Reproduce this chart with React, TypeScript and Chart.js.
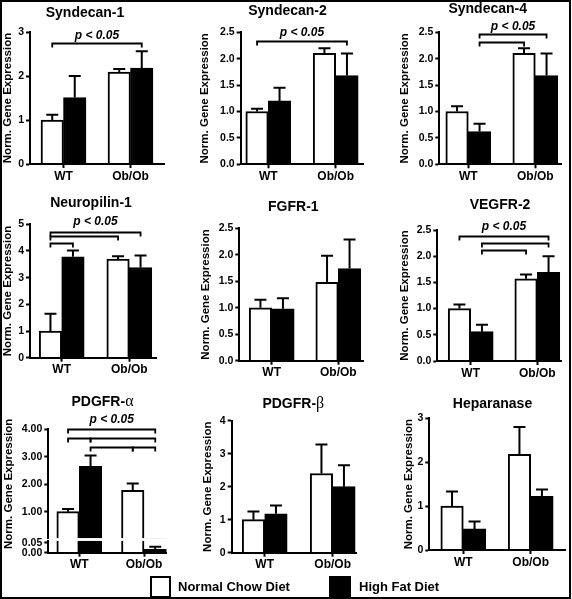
import React, { useEffect, useRef } from "react";
import { Chart, registerables } from "chart.js";

Chart.register(...registerables);

const PAGE_W = 572;
const PAGE_H = 599;
const SANS = "'Liberation Sans', Arial, Helvetica, sans-serif";
const SERIF = "'Liberation Serif', 'DejaVu Serif', serif";

// ---------------- data ----------------
const groups = ["WT", "Ob/Ob"];
const seriesNames = ["Normal Chow Diet", "High Fat Diet"];
const yAxisTitle = "Norm. Gene Expression";
const significanceLabel = "p < 0.05";

const panelTitles = ["Syndecan-1", "Syndecan-2", "Syndecan-4", "Neuropilin-1", "FGFR-1", "VEGFR-2", "PDGFR-", "PDGFR-", "Heparanase"];
const panelTitleGreek = ["", "", "", "", "", "", "α", "β", ""];

const syndecan1Chow = [1.0, 2.09];
const syndecan1ChowErr = [0.12, 0.07];
const syndecan1Fat = [1.51, 2.18];
const syndecan1FatErr = [0.49, 0.38];

const syndecan2Chow = [1.0, 2.1];
const syndecan2ChowErr = [0.05, 0.1];
const syndecan2Fat = [1.2, 1.68];
const syndecan2FatErr = [0.25, 0.42];

const syndecan4Chow = [1.0, 2.1];
const syndecan4ChowErr = [0.1, 0.1];
const syndecan4Fat = [0.62, 1.68];
const syndecan4FatErr = [0.15, 0.42];

const neuropilin1Chow = [1.0, 3.7];
const neuropilin1ChowErr = [0.65, 0.1];
const neuropilin1Fat = [3.78, 3.38];
const neuropilin1FatErr = [0.24, 0.45];

const fgfr1Chow = [1.0, 1.48];
const fgfr1ChowErr = [0.15, 0.5];
const fgfr1Fat = [0.98, 1.74];
const fgfr1FatErr = [0.2, 0.55];

const vegfr2Chow = [1.0, 1.57];
const vegfr2ChowErr = [0.08, 0.08];
const vegfr2Fat = [0.56, 1.69];
const vegfr2FatErr = [0.13, 0.31];

const pdgfraChow = [1.0, 1.78];
const pdgfraChowErr = [0.1, 0.25];
const pdgfraFat = [2.65, 0.017];
const pdgfraFatErr = [0.4, 0.013];

const pdgfrbChow = [1.0, 2.4];
const pdgfrbChowErr = [0.25, 0.88];
const pdgfrbFat = [1.18, 2.0];
const pdgfrbFatErr = [0.25, 0.65];

const heparanaseChow = [1.0, 2.18];
const heparanaseChowErr = [0.33, 0.62];
const heparanaseFat = [0.48, 1.22];
const heparanaseFatErr = [0.17, 0.16];

const ticksTo3 = ["0", "1", "2", "3"];
const ticksTo4 = ["0", "1", "2", "3", "4"];
const ticksTo5 = ["0", "1", "2", "3", "4", "5"];
const ticksHalfTo25 = ["0.0", "0.5", "1.0", "1.5", "2.0", "2.5"];
const pdgfraUpperTicks = ["1.00", "2.00", "3.00", "4.00"];
const pdgfraLowerTicks = ["0.00", "0.05"];

// bar index: 0 = WT chow, 1 = WT fat, 2 = Ob/Ob chow, 3 = Ob/Ob fat
const syndecan1Brackets = [[0, 3]];
const syndecan2Brackets = [[0, 3]];
const syndecan4Brackets = [[1, 3], [1, 2]];
const neuropilin1Brackets = [[0, 3], [0, 2], [0, 1]];
const vegfr2Brackets = [[0, 3], [1, 3], [1, 2]];
const pdgfraBrackets = [[0, 3], [0, 1], [1, 3], [1, 2], [2, 3]];
const noBrackets: number[][] = [];

const panels = [
  { chow: syndecan1Chow, chowErr: syndecan1ChowErr, fat: syndecan1Fat, fatErr: syndecan1FatErr, ticks: ticksTo3, brackets: syndecan1Brackets },
  { chow: syndecan2Chow, chowErr: syndecan2ChowErr, fat: syndecan2Fat, fatErr: syndecan2FatErr, ticks: ticksHalfTo25, brackets: syndecan2Brackets },
  { chow: syndecan4Chow, chowErr: syndecan4ChowErr, fat: syndecan4Fat, fatErr: syndecan4FatErr, ticks: ticksHalfTo25, brackets: syndecan4Brackets },
  { chow: neuropilin1Chow, chowErr: neuropilin1ChowErr, fat: neuropilin1Fat, fatErr: neuropilin1FatErr, ticks: ticksTo5, brackets: neuropilin1Brackets },
  { chow: fgfr1Chow, chowErr: fgfr1ChowErr, fat: fgfr1Fat, fatErr: fgfr1FatErr, ticks: ticksHalfTo25, brackets: noBrackets },
  { chow: vegfr2Chow, chowErr: vegfr2ChowErr, fat: vegfr2Fat, fatErr: vegfr2FatErr, ticks: ticksHalfTo25, brackets: vegfr2Brackets },
  { chow: pdgfraChow, chowErr: pdgfraChowErr, fat: pdgfraFat, fatErr: pdgfraFatErr, ticks: pdgfraUpperTicks, lowTicks: pdgfraLowerTicks, brackets: pdgfraBrackets },
  { chow: pdgfrbChow, chowErr: pdgfrbChowErr, fat: pdgfrbFat, fatErr: pdgfrbFatErr, ticks: ticksTo4, brackets: noBrackets },
  { chow: heparanaseChow, chowErr: heparanaseChowErr, fat: heparanaseFat, fatErr: heparanaseFatErr, ticks: ticksTo3, brackets: noBrackets },
];

// ---------------- layout (pixels on the page) ----------------
type Frame = {
  L: number; R: number; c1: number; c2: number; top: number; bottom: number;
  yOff: number; tx: number; ty: number; brY: number[]; pY: number | null;
  upperMin?: number; lowerMax?: number; weights?: number[];
};
const frames: Frame[] = [
  { L: 30, R: 164, c1: 63.5, c2: 130.5, top: 32, bottom: 164, yOff: 22, tx: 85, ty: 13, brY: [2.757], pY: 2.92 },
  { L: 240.7, R: 363, c1: 268.3, c2: 335.7, top: 32.3, bottom: 164.3, yOff: 36, tx: 287.5, ty: 11, brY: [2.34], pY: 2.49 },
  { L: 439.3, R: 561.7, c1: 468.3, c2: 535.3, top: 32.3, bottom: 164.3, yOff: 34, tx: 487.7, ty: 9, brY: [2.46, 2.32], pY: 2.61 },
  { L: 30, R: 156.7, c1: 61.7, c2: 129.3, top: 224.3, bottom: 357.7, yOff: 22, tx: 91, ty: 203, brY: [4.72, 4.57, 4.29], pY: 5.1 },
  { L: 239.3, R: 363.3, c1: 271.7, c2: 338.3, top: 228.3, bottom: 360.7, yOff: 33.5, tx: 293.3, ty: 207, brY: [], pY: null },
  { L: 437.3, R: 561.7, c1: 470.7, c2: 537.3, top: 230, bottom: 361, yOff: 32.3, tx: 500, ty: 205, brY: [2.39, 2.26, 2.12], pY: 2.56 },
  { L: 48.3, R: 166.7, c1: 79.3, c2: 144, top: 429.3, bottom: 552.7, yOff: 39.6, tx: 102.5, ty: 401.7, brY: [4.0, 3.67, 3.67, 3.34, 3.34], pY: 4.34, upperMin: 0.03, lowerMax: 0.06, weights: [109, 2.4, 12] },
  { L: 231.7, R: 356.7, c1: 264.7, c2: 332.7, top: 420.7, bottom: 552.7, yOff: 23.7, tx: 293.3, ty: 404, brY: [], pY: null },
  { L: 429.3, R: 565, c1: 463.3, c2: 530.7, top: 418.3, bottom: 550, yOff: 20.6, tx: 492.5, ty: 404, brY: [], pY: null },
];

const BAR_W = 22.5;
const X_H = 20;
const TITLE_SIZE = 11.5;
const TITLE_LH = TITLE_SIZE * 1.2;
const PANEL_TITLE_SIZE = 14;

const tickFont = { family: SANS, size: 10.5, weight: "bold" as const };

function yScale(labels: string[], extra: any) {
  return {
    type: "linear",
    position: "left",
    stacked: false,
    min: parseFloat(labels[0]),
    max: parseFloat(labels[labels.length - 1]),
    afterBuildTicks: (s: any) => {
      s.ticks = labels.map((l) => ({ value: parseFloat(l) }));
    },
    ticks: { autoSkip: false, callback: (_v: any, i: number) => labels[i], font: tickFont, color: "#000", padding: 2 },
    grid: { display: true, drawOnChartArea: false, drawTicks: true, tickLength: 4, tickWidth: 2, tickColor: "#000" },
    border: { display: true, color: "#000", width: 2, z: 1 },
    ...extra,
  };
}

function buildConfig(idx: number) {
  const p: any = panels[idx];
  const f = frames[idx];
  const broken = !!p.lowTicks;
  const u = f.c2 - f.c1;
  const yW = f.yOff + TITLE_LH / 2;
  const titleOpt = {
    display: true,
    text: yAxisTitle,
    color: "#000",
    font: { family: SANS, size: TITLE_SIZE, weight: "bold" },
    padding: 0,
  };
  const fitY = (s: any) => {
    s.width = yW;
  };

  const mk = (vals: number[], color: string, yAxisID: string, stack: string, label: string) => ({
    label,
    data: vals.map((v, i) => ({ x: i, y: v })),
    backgroundColor: color,
    borderColor: "#000",
    borderWidth: 2,
    borderSkipped: "start",
    barThickness: BAR_W,
    yAxisID,
    stack,
  });

  const datasets: any[] = [mk(p.chow, "#ffffff", "y", "a", seriesNames[0]), mk(p.fat, "#000000", "y", "b", seriesNames[1])];
  if (broken) {
    datasets.push(mk(p.chow, "#ffffff", "ylow", "a", seriesNames[0]));
    datasets.push(mk(p.fat, "#000000", "ylow", "b", seriesNames[1]));
  }

  const scales: any = {
    x: {
      type: "linear",
      position: "bottom",
      offset: false,
      min: -(f.c1 - f.L) / u,
      max: 1 + (f.R - f.c2) / u,
      afterBuildTicks: (s: any) => {
        s.ticks = groups.map((_g, i) => ({ value: i }));
      },
      ticks: {
        autoSkip: false,
        maxRotation: 0,
        callback: (_v: any, i: number) => groups[i],
        font: { family: SANS, size: 12, weight: "bold" },
        color: "#000",
        padding: 1,
      },
      grid: { display: true, offset: false, drawOnChartArea: false, drawTicks: true, tickLength: 4, tickWidth: 2, tickColor: "#000" },
      border: { display: true, color: "#000", width: 2, z: 1 },
      afterFit: (s: any) => {
        s.height = X_H;
      },
    },
  };

  if (!broken) {
    scales.y = yScale(p.ticks, { title: titleOpt, afterFit: fitY });
  } else {
    const w = f.weights as number[];
    scales.y = yScale(p.ticks, {
      min: f.upperMin,
      beginAtZero: false,
      stack: "ys",
      stackWeight: w[0],
      weight: 3,
      title: titleOpt,
      afterFit: fitY,
    });
    scales.ygap = {
      type: "linear",
      position: "left",
      display: false,
      stack: "ys",
      stackWeight: w[1],
      weight: 2,
      min: 0,
      max: 1,
    };
    scales.ylow = yScale(p.lowTicks, {
      max: f.lowerMax,
      stack: "ys",
      stackWeight: w[2],
      weight: 1,
      afterFit: fitY,
    });
  }

  const barCenter = (chart: any, k: number) => {
    const ds = k % 2;
    const g = Math.floor(k / 2);
    return chart.getDatasetMeta(ds).data[g].x;
  };

  const annot = {
    id: "annot" + idx,
    beforeDatasetDraw(chart: any, args: any) {
      if (!broken) return;
      const ys = chart.scales[args.meta.yAxisID];
      const ca = chart.chartArea;
      const ctx = chart.ctx;
      ctx.save();
      ctx.beginPath();
      ctx.rect(ca.left - 2, ys.top, ca.right - ca.left + 4, ys.bottom - ys.top);
      ctx.clip();
    },
    afterDatasetDraw(chart: any) {
      if (broken) chart.ctx.restore();
    },
    afterDatasetsDraw(chart: any) {
      const ctx = chart.ctx;
      ctx.save();
      ctx.strokeStyle = "#000";
      ctx.fillStyle = "#000";
      ctx.lineCap = "butt";

      // error bars (upward only)
      const series = [
        [p.chow, p.chowErr],
        [p.fat, p.fatErr],
      ];
      series.forEach(([vals, errs]: any, d: number) => {
        vals.forEach((v: number, g: number) => {
          const topV = v + errs[g];
          let ys = chart.scales.y;
          if (broken && topV <= (f.lowerMax as number)) ys = chart.scales.ylow;
          const x = chart.getDatasetMeta(d).data[g].x;
          const y0 = ys.getPixelForValue(v);
          const y1 = ys.getPixelForValue(topV);
          ctx.lineWidth = 2;
          ctx.beginPath();
          ctx.moveTo(x, y0);
          ctx.lineTo(x, y1);
          ctx.moveTo(x - 6, y1);
          ctx.lineTo(x + 6, y1);
          ctx.stroke();
        });
      });

      // significance brackets
      const ysMain = chart.scales.y;
      ctx.lineWidth = 1.8;
      p.brackets.forEach((b: number[], j: number) => {
        const xa = barCenter(chart, b[0]);
        const xb = barCenter(chart, b[1]);
        const y = Math.round(ysMain.getPixelForValue(f.brY[j])) + 0.5;
        ctx.beginPath();
        ctx.moveTo(xa, y + 4);
        ctx.lineTo(xa, y);
        ctx.lineTo(xb, y);
        ctx.lineTo(xb, y + 4);
        ctx.stroke();
      });
      if (p.brackets.length && f.pY !== null) {
        const b = p.brackets[0];
        const xm = (barCenter(chart, b[0]) + barCenter(chart, b[1])) / 2;
        ctx.font = `italic bold 12px ${SANS}`;
        ctx.textAlign = "center";
        ctx.textBaseline = "middle";
        ctx.fillText(significanceLabel, xm, ysMain.getPixelForValue(f.pY));
      }

      // panel title
      const title = panelTitles[idx];
      const greek = panelTitleGreek[idx];
      const tFont = `bold ${PANEL_TITLE_SIZE}px ${SANS}`;
      const gFont = `16px ${SERIF}`;
      ctx.font = tFont;
      const w1 = ctx.measureText(title).width;
      let w2 = 0;
      if (greek) {
        ctx.font = gFont;
        w2 = ctx.measureText(greek).width;
      }
      const x0 = f.tx - (w1 + w2) / 2;
      ctx.textAlign = "left";
      ctx.textBaseline = "middle";
      ctx.font = tFont;
      ctx.fillText(title, x0, f.ty);
      if (greek) {
        ctx.font = gFont;
        ctx.fillText(greek, x0 + w1, f.ty);
      }
      ctx.restore();
    },
  };

  return {
    type: "bar",
    data: { datasets },
    options: {
      responsive: false,
      animation: false,
      events: [],
      layout: {
        padding: {
          left: f.L - yW,
          right: PAGE_W - f.R,
          top: f.top,
          bottom: PAGE_H - f.bottom - X_H,
        },
      },
      plugins: {
        legend: { display: false },
        tooltip: { enabled: false },
        title: { display: false },
      },
      scales,
    },
    plugins: [annot],
  };
}

function Panel({ idx }: { idx: number }) {
  const ref = useRef<HTMLCanvasElement>(null);
  useEffect(() => {
    const c = ref.current;
    if (!c) return;
    const chart = new Chart(c, buildConfig(idx) as any);
    return () => chart.destroy();
  }, [idx]);
  return (
    <canvas
      ref={ref}
      width={PAGE_W}
      height={PAGE_H}
      style={{ position: "absolute", left: 0, top: 0, width: PAGE_W + "px", height: PAGE_H + "px" }}
    />
  );
}

export default function App() {
  const legendText: React.CSSProperties = {
    position: "absolute",
    top: 579,
    fontFamily: SANS,
    fontWeight: "bold",
    fontSize: 13,
    lineHeight: "15px",
    color: "#000",
    whiteSpace: "nowrap",
  };
  return (
    <div style={{ position: "absolute", left: 0, top: 0, width: PAGE_W, height: PAGE_H, background: "#fff", overflow: "hidden" }}>
      {panels.map((_p, i) => (
        <Panel key={i} idx={i} />
      ))}
      <div
        style={{
          position: "absolute",
          left: 0,
          top: 0,
          width: 571,
          height: PAGE_H,
          boxSizing: "border-box",
          border: "2px solid #000",
          pointerEvents: "none",
        }}
      />
      <div style={{ position: "absolute", left: 150, top: 576, width: 21, height: 22, boxSizing: "border-box", border: "2px solid #000", background: "#fff" }} />
      <div style={{ ...legendText, left: 178 }}>{seriesNames[0]}</div>
      <div style={{ position: "absolute", left: 329, top: 576, width: 22, height: 22, background: "#000" }} />
      <div style={{ ...legendText, left: 359 }}>{seriesNames[1]}</div>
    </div>
  );
}
